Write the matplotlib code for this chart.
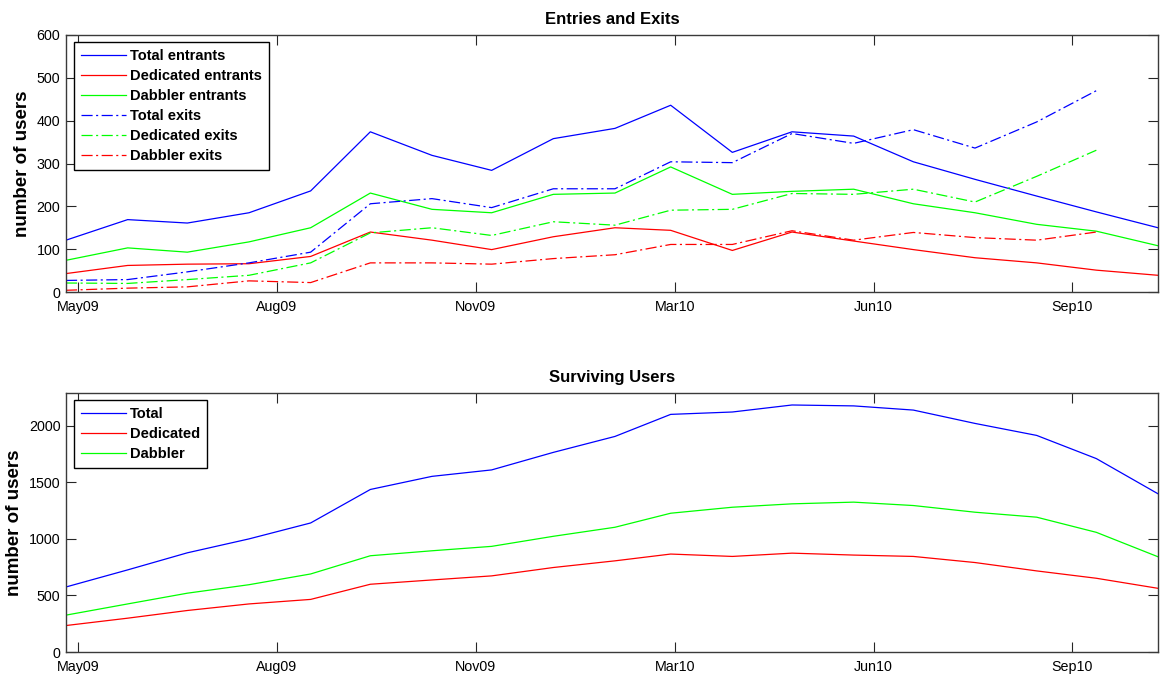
import matplotlib
matplotlib.use("Agg")
import matplotlib.pyplot as plt
import matplotlib.dates as mdates
import numpy as np
from datetime import datetime

# ---------------- data ----------------
months = ["2009-05", "2009-06", "2009-07", "2009-08", "2009-09", "2009-10",
          "2009-11", "2009-12", "2010-01", "2010-02", "2010-03", "2010-04",
          "2010-05", "2010-06", "2010-07", "2010-08", "2010-09", "2010-10",
          "2010-11"]

total_entrants = [121, 169, 161, 185, 236, 374, 319, 284, 358, 382, 436, 326,
                  374, 364, 304, 263, 224, 187, 150]
dedicated_entrants = [43, 62, 65, 66, 83, 140, 121, 99, 129, 150, 144, 97,
                      140, 119, 99, 80, 68, 51, 39]
dabbler_entrants = [74, 103, 93, 117, 150, 231, 193, 185, 228, 231, 292, 228,
                    235, 240, 206, 185, 158, 142, 108]
# exits end one month earlier (Oct 2010)
total_exits = [27, 29, 47, 68, 93, 206, 218, 197, 241, 241, 304, 302,
               370, 347, 379, 336, 397, 470]
dedicated_exits = [21, 20, 29, 39, 68, 138, 150, 132, 164, 156, 191, 193,
                   230, 228, 240, 210, 270, 331]
dabbler_exits = [4, 9, 12, 26, 22, 68, 68, 65, 78, 87, 111, 111,
                 143, 121, 139, 127, 121, 140]

surv_total = [575, 726, 877, 1000, 1141, 1437, 1553, 1610, 1765, 1906, 2101,
              2122, 2184, 2176, 2139, 2021, 1915, 1710, 1399]
surv_dedicated = [234, 299, 367, 425, 465, 599, 637, 673, 747, 806, 866, 845,
                  874, 857, 845, 791, 717, 652, 563]
surv_dabbler = [326, 425, 520, 595, 690, 851, 895, 934, 1023, 1103, 1227, 1280,
                1310, 1325, 1295, 1236, 1192, 1058, 842]

tick_dates = ["2009-05-07", "2009-08-15", "2009-11-23", "2010-03-03",
              "2010-06-11", "2010-09-19"]
tick_labels = ["May09", "Aug09", "Nov09", "Mar10", "Jun10", "Sep10"]

top_yticks = [0, 100, 200, 300, 400, 500, 600]
bot_yticks = [0, 500, 1000, 1500, 2000]
# ---------------------------------------

plt.rcParams['font.family'] = ['Liberation Sans', 'DejaVu Sans']
plt.rcParams['lines.scale_dashes'] = False

x = mdates.date2num([datetime.strptime(m, "%Y-%m") for m in months])
xt = mdates.date2num([datetime.strptime(d, "%Y-%m-%d") for d in tick_dates])

W, H = 1168, 677
fig = plt.figure(figsize=(W / 100, H / 100), dpi=100)

def px_axes(l, t, r, b):
    return fig.add_axes([l / W, 1 - b / H, (r - l) / W, (b - t) / H])

ax1 = px_axes(66, 35, 1158, 292)
ax2 = px_axes(66, 393, 1158, 652)

BLUE, RED, GREEN = (0, 0, 1), (1, 0, 0), (0, 1, 0)
DD = (0, (8, 2.5, 1.5, 2.5))
LW = 0.9

ne = len(total_exits)
ax1.plot(x, total_entrants, color=BLUE, lw=LW, label="Total entrants")
ax1.plot(x, dedicated_entrants, color=RED, lw=LW, label="Dedicated entrants")
ax1.plot(x, dabbler_entrants, color=GREEN, lw=LW, label="Dabbler entrants")
ax1.plot(x[:ne], total_exits, color=BLUE, lw=LW, ls=DD, label="Total exits")
ax1.plot(x[:ne], dedicated_exits, color=GREEN, lw=LW, ls=DD, label="Dedicated exits")
ax1.plot(x[:ne], dabbler_exits, color=RED, lw=LW, ls=DD, label="Dabbler exits")

ax2.plot(x, surv_total, color=BLUE, lw=LW, label="Total")
ax2.plot(x, surv_dedicated, color=RED, lw=LW, label="Dedicated")
ax2.plot(x, surv_dabbler, color=GREEN, lw=LW, label="Dabbler")

for ax, yt, ylim, title in ((ax1, top_yticks, (0, 600), "Entries and Exits"),
                            (ax2, bot_yticks, (0, 2290), "Surviving Users")):
    ax.set_xlim(x[0], x[-1])
    ax.set_ylim(*ylim)
    ax.set_xticks(xt)
    ax.set_xticklabels(tick_labels)
    ax.set_yticks(yt)
    ax.tick_params(direction='in', length=7, width=0.8, top=True, right=True,
                   labelsize=10.3, color='#262626')
    ax.tick_params(axis='x', pad=5.5)
    ax.tick_params(axis='y', pad=4)
    for s in ax.spines.values():
        s.set_color('#3a3a3a')
        s.set_linewidth(1.0)
    ax.set_title(title, fontsize=12, fontweight='bold', pad=8)
    ax.set_ylabel("number of users", fontsize=13.5, fontweight='bold', labelpad=4)
    leg = ax.legend(loc='upper left', bbox_to_anchor=(0.0073, 0.972),
                    borderaxespad=0, fancybox=False, shadow=False,
                    prop={'weight': 'bold', 'size': 10.5},
                    handlelength=3.1, handletextpad=0.3, labelspacing=0.42,
                    borderpad=0.45, framealpha=1)
    leg.get_frame().set_edgecolor('black')
    leg.get_frame().set_linewidth(1.0)

fig.savefig("out.png", dpi=100)
